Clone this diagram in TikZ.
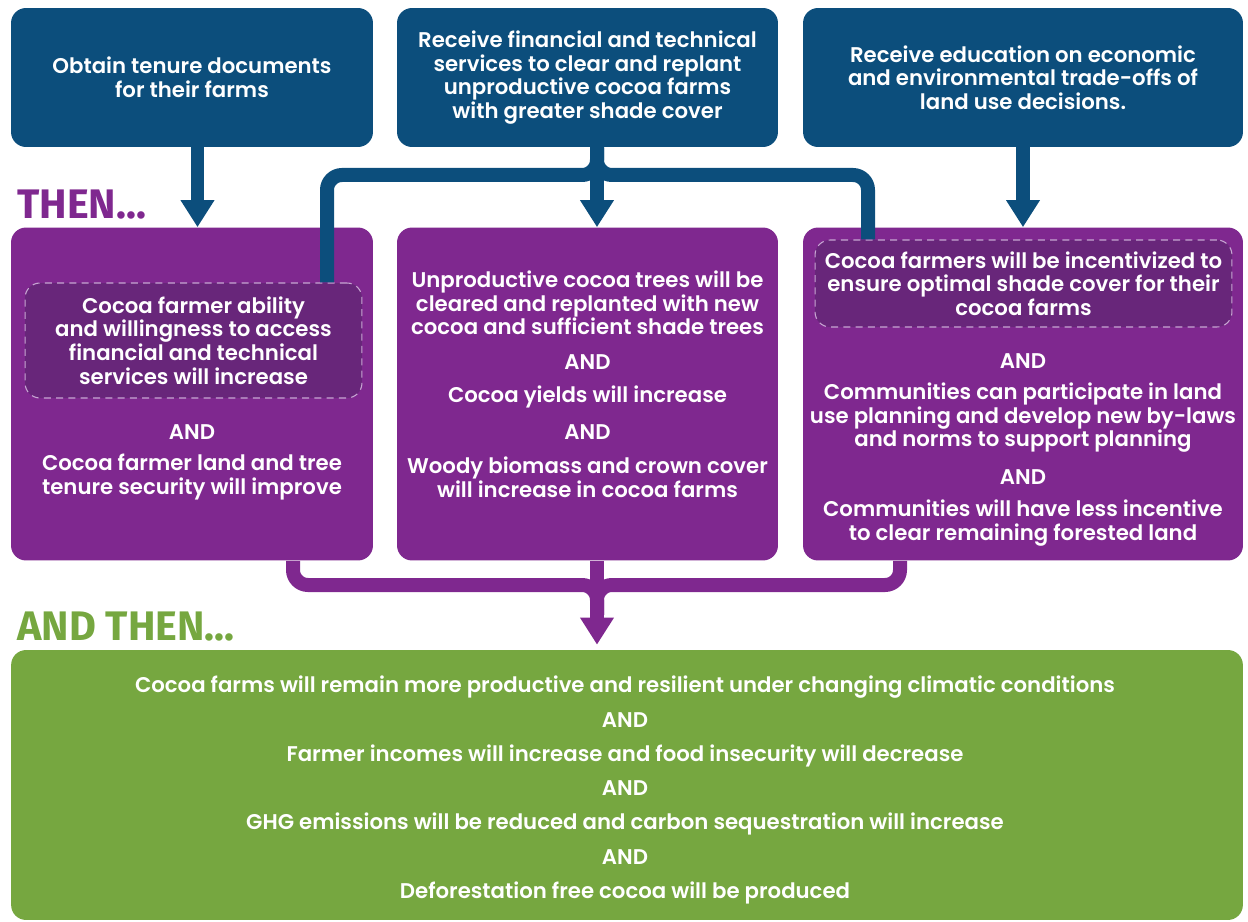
\documentclass[tikz,border=0pt]{standalone}
\usepackage{fontspec}
\setmainfont{Poppins}[BoldFont={Poppins SemiBold}]
\newfontfamily\headfont{Fira Sans}
\usetikzlibrary{arrows.meta, positioning}

\definecolor{navy}{HTML}{0C4E7C}
\definecolor{plum}{HTML}{7F288F}
\definecolor{plumdark}{HTML}{68267A}
\definecolor{lilac}{HTML}{C7A6D2}
\definecolor{leaf}{HTML}{76A740}

\begin{document}
\begin{tikzpicture}[x=0.02cm, y=-0.02cm]
    \tikzset{
        box/.style = {rounded corners=0.3cm, inner sep=0pt},
        actbox/.style = {box, fill=navy, minimum height=2.78cm},
        thenbox/.style = {box, fill=plum, minimum height=6.66cm},
        txt/.style = {text=white, align=center, inner sep=0pt, font=\bfseries\fontsize{12.1}{13.4}\selectfont},
        keybox/.style = {box, txt, fill=plumdark, draw=lilac, line width=0.6pt, dash pattern=on 4pt off 3pt},
        head/.style = {anchor=west, inner sep=0pt, font=\headfont\bfseries\fontsize{23.5}{27}\selectfont},
        link/.style = {line width=0.28cm, rounded corners=0.3cm},
        arrow/.style = {link, -{Triangle[width=0.64cm, length=0.54cm]}},
    }
    \useasboundingbox (0,0) rectangle (1248,922);

    % what farmers receive
    \node (act1) [actbox, txt, minimum width=7.24cm] at (192,77.5) {Obtain tenure documents\\for their farms};
    \node (act2) [actbox, txt, minimum width=7.62cm] at (587.5,77.5) {Receive financial and technical\\services to clear and replant\\unproductive cocoa farms\\with greater shade cover};
    \node (act3) [actbox, txt, minimum width=8.80cm] at (1023,77.5) {Receive education on economic\\and environmental trade-offs of\\land use decisions.};

    \node (then) [head, text=plum] at (17,205) {THEN...};

    % first results
    \node (then1) [thenbox, minimum width=7.24cm] at (192,394) {};
    \node (then2) [thenbox, minimum width=7.62cm] at (587.5,394) {};
    \node (then3) [thenbox, minimum width=8.80cm] at (1023,394) {};

    \node (access) [keybox, minimum width=6.74cm, minimum height=2.3cm] at (193.5,340.5) {Cocoa farmer ability\\and willingness to access\\financial and technical\\services will increase};
    \node (and1) [txt] at (192,432) {AND};
    \node (tenure) [txt] at (192,477) {Cocoa farmer land and tree\\tenure security will improve};

    \node (cleared) [txt] at (587.5,303) {Unproductive cocoa trees will be\\cleared and replanted with new\\cocoa and sufficient shade trees};
    \node (and2a) [txt] at (587.5,362) {AND};
    \node (yields) [txt] at (587.5,397) {Cocoa yields will increase};
    \node (and2b) [txt] at (587.5,432) {AND};
    \node (biomass) [txt] at (587.5,477.5) {Woody biomass and crown cover\\will increase in cocoa farms};

    \node (shade) [keybox, minimum width=8.34cm, minimum height=1.74cm] at (1023.5,283.5) {Cocoa farmers will be incentivized to\\ensure optimal shade cover for their\\cocoa farms};
    \node (and3a) [txt] at (1023,361) {AND};
    \node (plan) [txt] at (1023,418) {Communities can participate in land\\use planning and develop new by-laws\\and norms to support planning};
    \node (and3b) [txt] at (1023,477) {AND};
    \node (forest) [txt] at (1023,523) {Communities will have less incentive\\to clear remaining forested land};

    \node (andthen) [head, text=leaf] at (17,627) {AND THEN...};

    % final outcomes
    \node (result) [box, fill=leaf, minimum width=24.64cm, minimum height=5.4cm] at (627,785) {};
    \node (outcome) [txt, font=\bfseries\fontsize{12.1}{19.5}\selectfont] at (625,790) {Cocoa farms will remain more productive and resilient under changing climatic conditions\\AND\\Farmer incomes will increase and food insecurity will decrease\\AND\\GHG emissions will be reduced and carbon sequestration will increase\\AND\\Deforestation free cocoa will be produced};

    % blue connectors
    \coordinate (stem) at ([xshift=0.19cm]act2.south);
    \coordinate (forkL) at (327,175);
    \coordinate (forkR) at (868,175);
    \draw [arrow, navy] ([xshift=0.11cm]act1.south) -- ([xshift=0.11cm]then1.north);
    \draw [arrow, navy] (act3.south) -- (then3.north);
    \draw [link, navy] (stem) |- (forkL) -- (forkL |- access.north);
    \draw [link, navy] (stem) |- (forkR) -- (forkR |- shade.north);
    \draw [arrow, navy] (stem) -- (stem |- then2.north);

    % purple connectors
    \coordinate (sink) at ([xshift=0.19cm]then2.south);
    \coordinate (mergeL) at (293,585);
    \coordinate (mergeR) at (900,585);
    \draw [link, plum] (mergeL |- then1.south) -- (mergeL) -| ([yshift=-0.6cm]sink |- mergeL);
    \draw [link, plum] (mergeR |- then3.south) -- (mergeR) -| ([yshift=-0.6cm]sink |- mergeR);
    \draw [arrow, plum] (sink) -- ([yshift=0.1cm]sink |- result.north);
\end{tikzpicture}
\end{document}
